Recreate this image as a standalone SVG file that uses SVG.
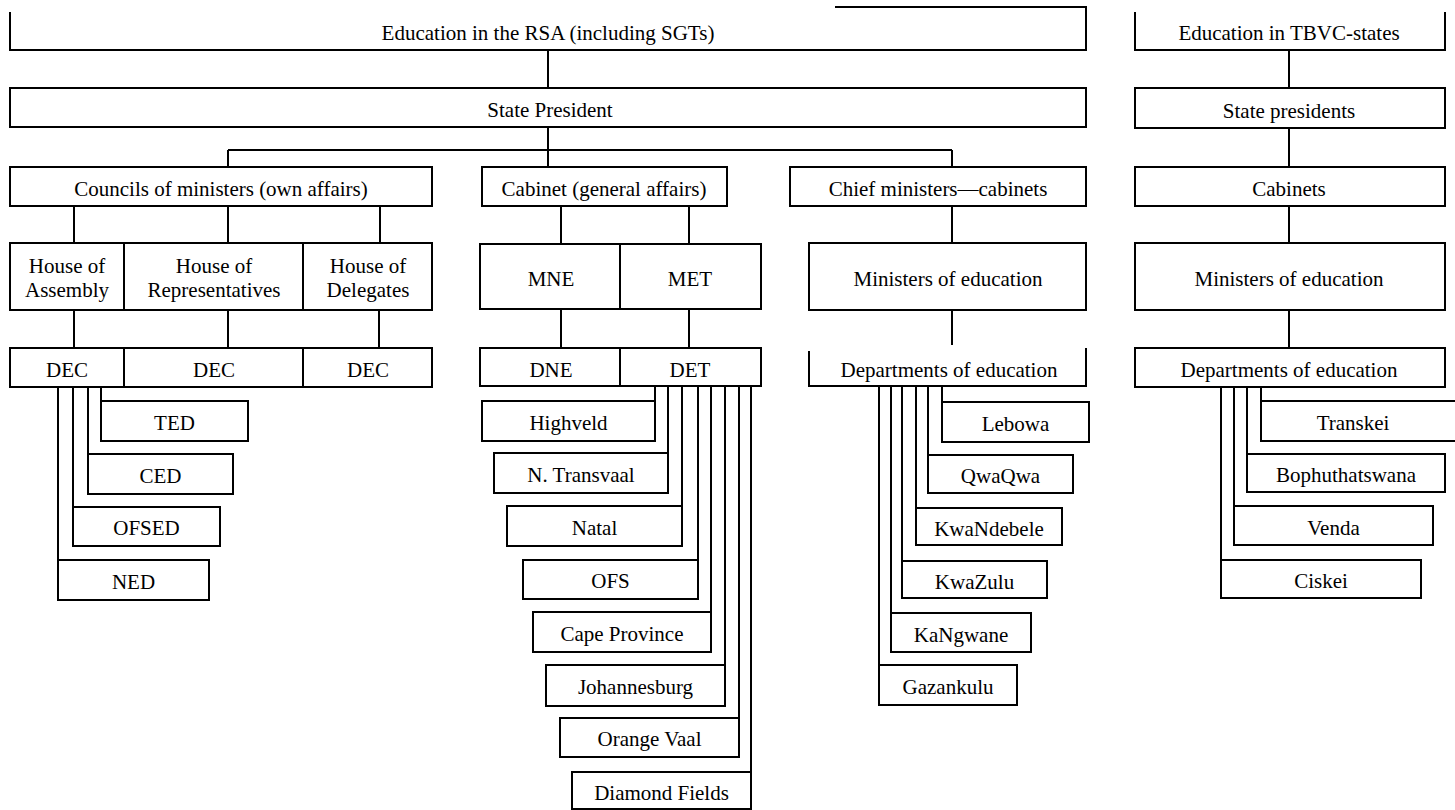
<svg xmlns="http://www.w3.org/2000/svg" width="1455" height="810" viewBox="0 0 1455 810">
<style>
.b{fill:none;stroke:#000;stroke-width:2}
.c{fill:none;stroke:#000;stroke-width:2}
text{font-family:"Liberation Serif","Times New Roman",serif;font-size:21px;fill:#000;text-anchor:middle}
</style>
<rect width="1455" height="810" fill="#fff"/>
<g id="connectors">
<path class="c" d="M548,50V88M548,127V167M228,150H952M228,150V167M952,150V167"/>
<path class="c" d="M74,206V243M228,206V243M380,206V243M74,310V348M228,310V348M379,310V348"/>
<path class="c" d="M561,206V244M689,206V244M561,309V348M689,309V348"/>
<path class="c" d="M952,206V243M952,310V345"/>
<path class="c" d="M1289,50V88M1289,128V167M1289,206V243M1289,310V348"/>
<path class="c" d="M58,387V560M73,387V507M88,387V454M101,387V401"/>
<path class="c" d="M655,386V401M668,386V453M682,386V506M698,386V560M711,386V612M725,386V665M739,386V718M751,386V772"/>
<path class="c" d="M879,386V665M891,386V613M902,386V561M916,386V508M928,386V455M942,386V402"/>
<path class="c" d="M1221,387V560M1234,387V506M1247,387V454M1261,387V401"/>
</g>
<g id="n-rsa"><path class="b" d="M10,12V50H1086V7H835"/><text x="548" y="40">Education in the RSA (including SGTs)</text></g>
<g id="n-sp"><rect class="b" x="10" y="88" width="1076" height="39"/><text x="550" y="117">State President</text></g>
<g id="n-councils"><rect class="b" x="10" y="167" width="422" height="39"/><text x="221" y="196">Councils of ministers (own affairs)</text></g>
<g id="n-cabinet"><rect class="b" x="482" y="167" width="245" height="39"/><text x="604" y="196">Cabinet (general affairs)</text></g>
<g id="n-chief"><rect class="b" x="790" y="167" width="296" height="39"/><text x="938" y="196">Chief ministers—cabinets</text></g>
<g id="n-hoa"><rect class="b" x="10" y="243" width="114" height="67"/><text x="67" y="273">House of</text><text x="67" y="297">Assembly</text></g>
<g id="n-hor"><rect class="b" x="124" y="243" width="179" height="67"/><text x="214" y="273">House of</text><text x="214" y="297">Representatives</text></g>
<g id="n-hod"><rect class="b" x="303" y="243" width="129" height="67"/><text x="368" y="273">House of</text><text x="368" y="297">Delegates</text></g>
<g id="n-dec1"><rect class="b" x="10" y="348" width="114" height="39"/><text x="67" y="377">DEC</text></g>
<g id="n-dec2"><rect class="b" x="124" y="348" width="179" height="39"/><text x="214" y="377">DEC</text></g>
<g id="n-dec3"><rect class="b" x="303" y="348" width="129" height="39"/><text x="368" y="377">DEC</text></g>
<g id="n-mne"><rect class="b" x="480" y="244" width="140" height="65"/><text x="551" y="286">MNE</text></g>
<g id="n-met"><rect class="b" x="620" y="244" width="141" height="65"/><text x="690" y="286">MET</text></g>
<g id="n-dne"><rect class="b" x="480" y="348" width="140" height="38"/><text x="551" y="377">DNE</text></g>
<g id="n-det"><rect class="b" x="620" y="348" width="141" height="38"/><text x="690" y="377">DET</text></g>
<g id="n-min"><rect class="b" x="809" y="243" width="277" height="67"/><text x="948" y="286">Ministers of education</text></g>
<g id="n-dep"><path class="b" d="M809,351V386H1086V348"/><text x="949" y="377">Departments of education</text></g>
<g id="n-tbvc"><path class="b" d="M1135,12V50H1445V12"/><text x="1289" y="40">Education in TBVC-states</text></g>
<g id="n-tsp"><rect class="b" x="1135" y="88" width="310" height="40"/><text x="1289" y="118">State presidents</text></g>
<g id="n-tcab"><rect class="b" x="1135" y="167" width="310" height="39"/><text x="1289" y="196">Cabinets</text></g>
<g id="n-tmin"><rect class="b" x="1135" y="243" width="310" height="67"/><text x="1289" y="286">Ministers of education</text></g>
<g id="n-tdep"><rect class="b" x="1135" y="348" width="310" height="39"/><text x="1289" y="377">Departments of education</text></g>
<g id="n-ted"><rect class="b" x="101" y="401" width="147" height="40"/><text x="174.5" y="430">TED</text></g>
<g id="n-ced"><rect class="b" x="88" y="454" width="145" height="40"/><text x="160.5" y="483">CED</text></g>
<g id="n-ofsed"><rect class="b" x="73" y="507" width="147" height="39"/><text x="146.5" y="535">OFSED</text></g>
<g id="n-ned"><rect class="b" x="58" y="560" width="151" height="40"/><text x="133.5" y="589">NED</text></g>
<g id="n-highveld"><rect class="b" x="482" y="401" width="173" height="40"/><text x="568.5" y="430">Highveld</text></g>
<g id="n-ntransvaal"><rect class="b" x="494" y="453" width="174" height="40"/><text x="581" y="482">N. Transvaal</text></g>
<g id="n-natal"><rect class="b" x="507" y="506" width="175" height="40"/><text x="594.5" y="535">Natal</text></g>
<g id="n-ofs"><rect class="b" x="523" y="560" width="175" height="39"/><text x="610.5" y="588">OFS</text></g>
<g id="n-cape"><rect class="b" x="533" y="612" width="178" height="40"/><text x="622" y="641">Cape Province</text></g>
<g id="n-jhb"><rect class="b" x="546" y="665" width="179" height="41"/><text x="635.5" y="694">Johannesburg</text></g>
<g id="n-ov"><rect class="b" x="560" y="718" width="179" height="39"/><text x="649.5" y="746">Orange Vaal</text></g>
<g id="n-df"><rect class="b" x="572" y="772" width="179" height="37"/><text x="661.5" y="800">Diamond Fields</text></g>
<g id="n-lebowa"><rect class="b" x="942" y="402" width="147" height="40"/><text x="1015.5" y="431">Lebowa</text></g>
<g id="n-qwaqwa"><rect class="b" x="928" y="455" width="145" height="38"/><text x="1000.5" y="483">QwaQwa</text></g>
<g id="n-kwandebele"><rect class="b" x="916" y="508" width="146" height="37"/><text x="989" y="536">KwaNdebele</text></g>
<g id="n-kwazulu"><rect class="b" x="902" y="561" width="145" height="37"/><text x="974.5" y="589">KwaZulu</text></g>
<g id="n-kangwane"><rect class="b" x="891" y="613" width="140" height="39"/><text x="961" y="642">KaNgwane</text></g>
<g id="n-gazankulu"><rect class="b" x="879" y="665" width="138" height="40"/><text x="948" y="694">Gazankulu</text></g>
<g id="n-transkei"><path class="b" d="M1455,401H1261V441H1455"/><text x="1353" y="430">Transkei</text></g>
<g id="n-bop"><rect class="b" x="1247" y="454" width="198" height="38"/><text x="1346" y="482">Bophuthatswana</text></g>
<g id="n-venda"><rect class="b" x="1234" y="506" width="199" height="39"/><text x="1333.5" y="535">Venda</text></g>
<g id="n-ciskei"><rect class="b" x="1221" y="560" width="200" height="38"/><text x="1321" y="588">Ciskei</text></g>
</svg>
